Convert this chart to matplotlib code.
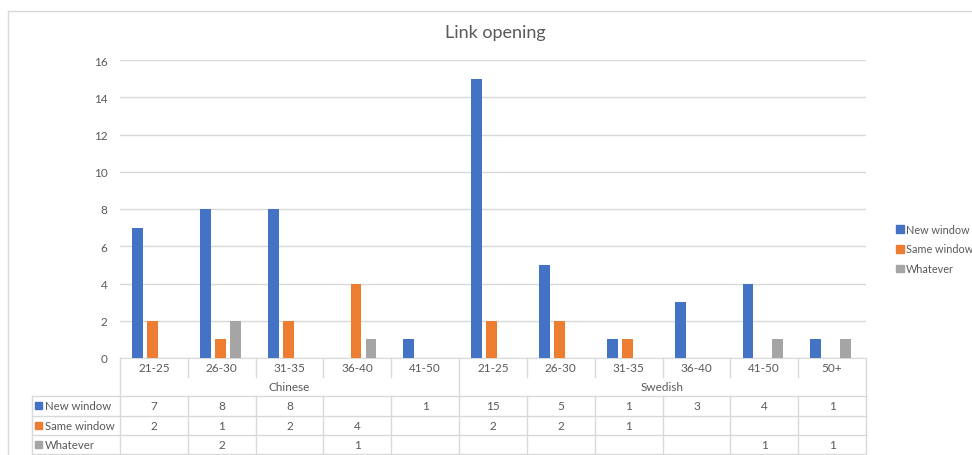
import matplotlib
matplotlib.use("Agg")
import matplotlib.pyplot as plt
import matplotlib.transforms as mtrans
from matplotlib.patches import Rectangle
from matplotlib.lines import Line2D
import numpy as np

plt.rcParams['font.family'] = ['Lato', 'DejaVu Sans']

title = "Link opening"
groups = ["Chinese", "Swedish"]
group_sizes = [5, 6]
age_bands = ["21-25", "26-30", "31-35", "36-40", "41-50",
             "21-25", "26-30", "31-35", "36-40", "41-50", "50+"]
series_names = ["New window", "Same window", "Whatever"]
new_window = [7, 8, 8, None, 1, 15, 5, 1, 3, 4, 1]
same_window = [2, 1, 2, 4, None, 2, 2, 1, None, None, None]
whatever = [None, 2, None, 1, None, None, None, None, None, 1, 1]
yticks = [0, 2, 4, 6, 8, 10, 12, 14, 16]

series = [new_window, same_window, whatever]
colors = ["#4472C4", "#ED7D31", "#A5A5A5"]
text_col = "#595959"
line_col = "#D9D9D9"

W, H = 972, 456
fig = plt.figure(figsize=(W / 100, H / 100), dpi=100)
fx = lambda px: px / W
fy = lambda py: 1 - py / H

# outer chart frame
fig.add_artist(Line2D([fx(8), fx(8)], [fy(12), 0], color=line_col, lw=1))
fig.add_artist(Line2D([fx(8), 1], [fy(12), fy(12)], color=line_col, lw=1))

ax = fig.add_axes([fx(120), fy(359), fx(866) - fx(120), fy(61) - fy(359)])
n = len(age_bands)
x = np.arange(n)
width = 0.16
step = 0.22
offsets = [-step - 0.02, -0.02, step - 0.02]
for vals, col, off in zip(series, colors, offsets):
    h = [v if v is not None else 0 for v in vals]
    ax.bar(x + off, h, width=width, color=col, zorder=3)

ax.set_xlim(-0.5, n - 0.5)
ax.set_ylim(0, 16)
ax.set_yticks(yticks)
ax.set_yticklabels([str(t) for t in yticks], color=text_col, fontsize=8.5)
ax.tick_params(axis='y', length=0, pad=9)
ax.set_xticks([])
ax.grid(axis='y', color=line_col, lw=1, zorder=0)
for s in ["top", "right", "left"]:
    ax.spines[s].set_visible(False)
ax.spines["bottom"].set_color(line_col)

fig.text(fx(495), fy(33), title, ha='center', va='center', fontsize=13, color=text_col)

# data table under the axis
tr = mtrans.blended_transform_factory(ax.transData, fig.transFigure)
y_top, y_cat, y_grp = 359, 378, 397
row_edges = [397, 416.5, 436, 455]
left_px = 32

def vline(xd, y0, y1):
    fig.add_artist(Line2D([xd, xd], [fy(y0), fy(y1)], transform=tr, color=line_col, lw=1))

bounds = np.cumsum([0] + group_sizes) - 0.5
for k in range(n + 1):
    xb = k - 0.5
    if xb in bounds:
        vline(xb, y_top, row_edges[-1])
    else:
        vline(xb, y_top, y_cat)
        vline(xb, y_grp, row_edges[-1])

fig.add_artist(Line2D([fx(left_px), fx(left_px)], [fy(row_edges[0]), fy(row_edges[-1])],
                      color=line_col, lw=1))
x_right_fig = ax.transData.transform((n - 0.5, 0))[0] / W
for ye in row_edges:
    fig.add_artist(Line2D([fx(left_px), x_right_fig], [fy(ye), fy(ye)], color=line_col, lw=1))

for i, lab in enumerate(age_bands):
    fig.text(i, fy((y_top + y_cat) / 2), lab, transform=tr, ha='center', va='center',
             fontsize=8.5, color=text_col)
for g, (name, a, b) in enumerate(zip(groups, bounds[:-1], bounds[1:])):
    fig.text((a + b) / 2, fy((y_cat + y_grp) / 2), name, transform=tr, ha='center',
             va='center', fontsize=8.5, color=text_col)

for r, (name, vals, col) in enumerate(zip(series_names, series, colors)):
    yc = (row_edges[r] + row_edges[r + 1]) / 2
    fig.add_artist(Rectangle((fx(35), fy(yc + 3.5)), fx(7), 7 / H, color=col))
    fig.text(fx(45), fy(yc), name, ha='left', va='center', fontsize=8.2, color=text_col)
    for i, v in enumerate(vals):
        if v is not None:
            fig.text(i, fy(yc), str(v), transform=tr, ha='center', va='center',
                     fontsize=8.5, color=text_col)

# legend on the right
handles = [Rectangle((0, 0), 1, 1, color=c) for c in colors]
fig.legend(handles, series_names, loc='center left',
           bbox_to_anchor=(fx(896), fy(250)), frameon=False, fontsize=7.8,
           borderpad=0, borderaxespad=0,
           handlelength=0.7, handleheight=0.7, handletextpad=0.25,
           labelspacing=0.8, labelcolor=text_col)

fig.savefig("out.png", dpi=100)
